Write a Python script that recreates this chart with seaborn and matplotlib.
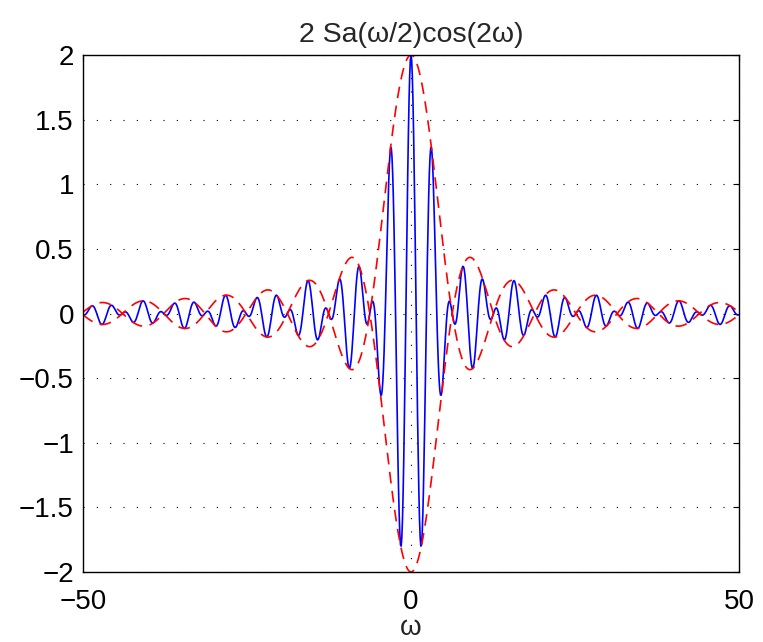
import numpy as np
import pandas as pd
import matplotlib
matplotlib.use("Agg")
import matplotlib.pyplot as plt
import seaborn as sns

# parameters of the plotted function 2 Sa(w/2) cos(2w)
omega_range = [-50, 50]
omega_step = 0.1
amplitude = 2
sa_scale = 0.5
carrier = 2
x_ticks = [-50, 0, 50]
y_ticks = [-2, -1.5, -1, -0.5, 0, 0.5, 1, 1.5, 2]
y_ticklabels = ["\u22122", "\u22121.5", "\u22121", "\u22120.5", "0", "0.5", "1", "1.5", "2"]
x_ticklabels = ["\u221250", "0", "50"]
title = "2 Sa(\u03c9/2)cos(2\u03c9)"
xlabel = "\u03c9"

w = np.arange(omega_range[0], omega_range[1] + omega_step / 2, omega_step)
sa = np.sinc(sa_scale * w / np.pi)
env = amplitude * sa
sig = env * np.cos(carrier * w)
df = pd.DataFrame({"w": w, "sig": sig, "env_p": env, "env_n": -env})

sns.set_theme(style="white")
plt.rcParams["font.family"] = ["Liberation Sans", "DejaVu Sans"]

W, H = 763, 642
L, R, T, B = 83, 739, 55, 572
fig = plt.figure(figsize=(W / 100, H / 100), dpi=100)
ax = fig.add_axes([L / W, 1 - B / H, (R - L) / W, (B - T) / H])

sns.lineplot(data=df, x="w", y="sig", ax=ax, color="#0000ff", lw=1.2)
sns.lineplot(data=df, x="w", y="env_p", ax=ax, color="#ff0000", lw=1.2, linestyle=(0, (7, 4.5)))
sns.lineplot(data=df, x="w", y="env_n", ax=ax, color="#ff0000", lw=1.2, linestyle=(0, (7, 4.5)))

ax.set_xlim(omega_range)
ax.set_ylim(-2, 2)
ax.set_xticks(x_ticks)
ax.set_xticklabels(x_ticklabels)
ax.set_yticks(y_ticks)
ax.set_yticklabels(y_ticklabels)
ax.grid(True, color="black", linestyle=(0, (1, 11)), linewidth=0.8)
ax.tick_params(direction="in", length=4.5, width=0.8, top=True, right=True,
               labelsize=20, colors="black")
ax.tick_params(axis="y", pad=6.5)
ax.tick_params(axis="x", pad=12)
for s in ax.spines.values():
    s.set_color("black")
    s.set_linewidth(1.0)
ax.set_title(title, fontsize=20.5, pad=9)
ax.set_xlabel(xlabel, fontsize=20, labelpad=0)
ax.set_ylabel("")
fig.savefig("out.png", dpi=100)
